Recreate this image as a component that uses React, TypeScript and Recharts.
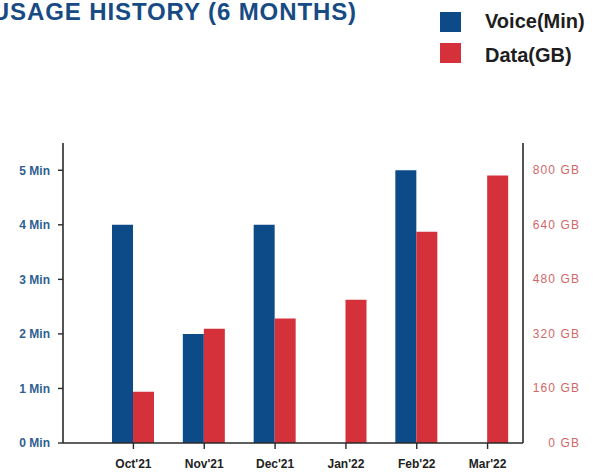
import React from "react";
import { BarChart, Bar, XAxis, YAxis, Legend } from "recharts";

const months = ["Oct'21", "Nov'21", "Dec'21", "Jan'22", "Feb'22", "Mar'22"];
const voiceMin = [4, 2, 4, 0, 5, 0];
const dataGB = [150, 335, 365, 420, 620, 785];
const voiceTicks = [0, 1, 2, 3, 4, 5];
const dataTicks = [0, 160, 320, 480, 640, 800];

const BLUE = "#0d4a88";
const RED = "#d4313a";
const FONT = "'Liberation Sans', Arial, sans-serif";

const rows = months.map((m, i) => ({ month: m, voice: voiceMin[i], data: dataGB[i] }));

const RightTick = (props: any) => {
  const { y, payload } = props;
  return (
    <text
      x={580}
      y={y}
      textAnchor="end"
      dominantBaseline="central"
      fill="#d06868"
      fontSize={12}
      letterSpacing={1.1}
      fontFamily={FONT}
    >
      {`${payload.value} GB`}
    </text>
  );
};

const LegendContent = () => (
  <svg width={177} height={72}>
    <rect x={10} y={12} width={21} height={20} fill={BLUE} />
    <text x={55} y={28} fontSize={20} fontWeight="bold" fill="#1e1e1e" fontFamily={FONT}>
      Voice(Min)
    </text>
    <rect x={10} y={43} width={21} height={20} fill={RED} />
    <text x={55} y={62} fontSize={20} fontWeight="bold" fill="#1e1e1e" fontFamily={FONT}>
      Data(GB)
    </text>
  </svg>
);

export default function App() {
  return (
    <div style={{ position: "absolute", left: 0, top: 0, width: 607, height: 473, background: "#fff", overflow: "hidden" }}>
      <svg width={607} height={40} style={{ position: "absolute", left: 0, top: 0 }}>
        <text
          x={357}
          y={20}
          textAnchor="end"
          fontSize={24}
          fontWeight="bold"
          letterSpacing={0.9}
          fill="#184a84"
          fontFamily={FONT}
        >
          USAGE HISTORY (6 MONTHS)
        </text>
      </svg>
      <BarChart
        width={607}
        height={473}
        data={rows}
        margin={{ top: 143, right: 0, bottom: 0, left: 0 }}
        barGap={0}
        barSize={21}
        style={{ position: "absolute", left: 0, top: 0 }}
      >
        <XAxis
          dataKey="month"
          height={30}
          padding={{ left: 35, right: 0 }}
          tickSize={6}
          tickMargin={10}
          axisLine={{ stroke: "#2a2a2a", strokeWidth: 1.6 }}
          tickLine={{ stroke: "#2a2a2a", strokeWidth: 1.4 }}
          tick={{ fill: "#222", fontSize: 12, fontWeight: "bold", fontFamily: FONT }}
          interval={0}
        />
        <YAxis
          yAxisId="voice"
          orientation="left"
          width={63}
          domain={[0, 5.5]}
          ticks={voiceTicks}
          tickFormatter={(v: number) => `${v} Min`}
          tickSize={5}
          tickMargin={8}
          axisLine={{ stroke: "#2a2a2a", strokeWidth: 1.6 }}
          tickLine={{ stroke: "#2a2a2a", strokeWidth: 1.4 }}
          tick={{ fill: "#2f5f91", fontSize: 12, fontWeight: "bold", fontFamily: FONT }}
          allowDataOverflow
        />
        <YAxis
          yAxisId="data"
          orientation="right"
          width={84}
          domain={[0, 880]}
          ticks={dataTicks}
          tickLine={false}
          axisLine={{ stroke: "#2a2a2a", strokeWidth: 1.6 }}
          tick={<RightTick />}
          allowDataOverflow
        />
        <Legend
          layout="vertical"
          align="center"
          verticalAlign="middle"
          content={<LegendContent />}
          wrapperStyle={{ position: "absolute", left: 430, top: 0, width: 177, height: 72 }}
        />
        <Bar yAxisId="voice" dataKey="voice" name="Voice(Min)" fill={BLUE} isAnimationActive={false} />
        <Bar yAxisId="data" dataKey="data" name="Data(GB)" fill={RED} isAnimationActive={false} />
      </BarChart>
    </div>
  );
}
